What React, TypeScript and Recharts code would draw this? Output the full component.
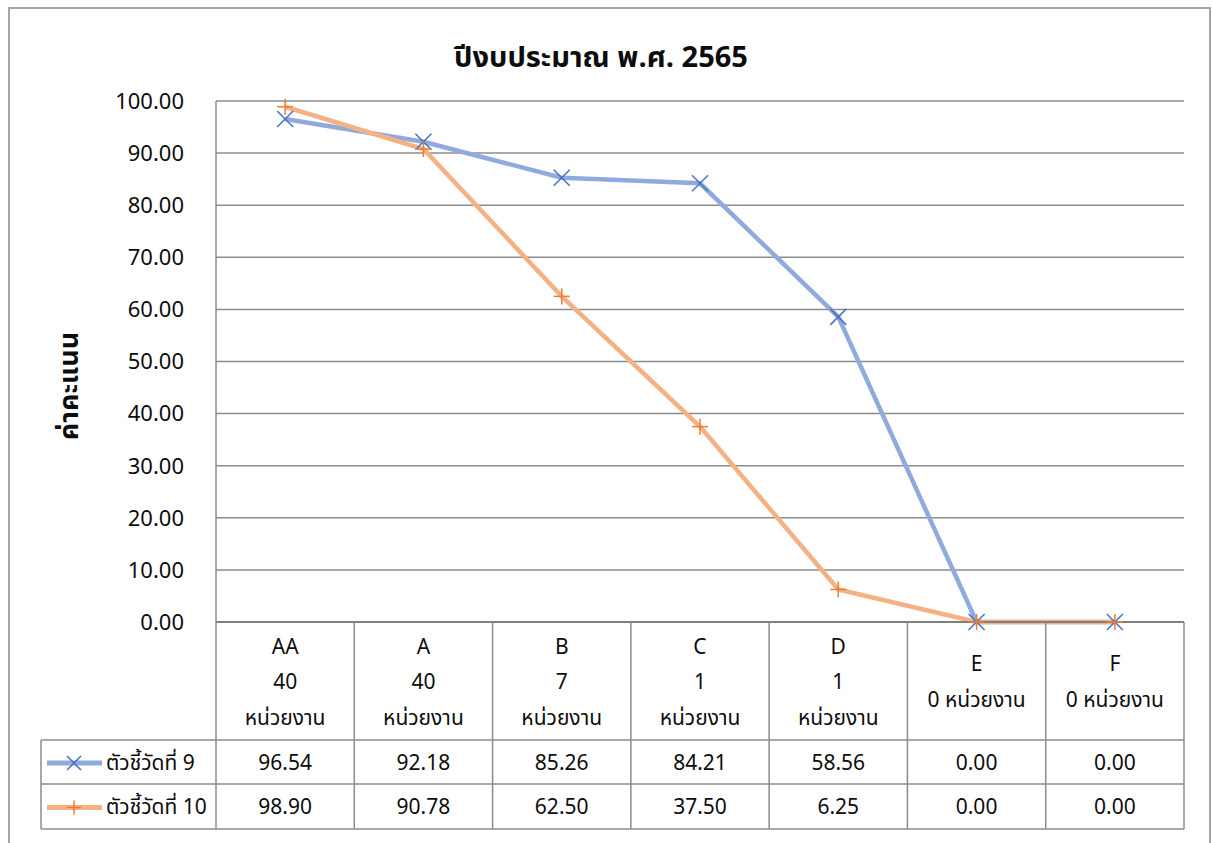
import React from 'react';
import { LineChart, Line, XAxis, YAxis, CartesianGrid, Customized } from 'recharts';

const categories = ['AA', 'A', 'B', 'C', 'D', 'E', 'F'];
const unitCounts = ['40', '40', '7', '1', '1', '0', '0'];
const unitWord = 'หน่วยงาน';
const series9 = [96.54, 92.18, 85.26, 84.21, 58.56, 0.0, 0.0];
const series10 = [98.9, 90.78, 62.5, 37.5, 6.25, 0.0, 0.0];
const seriesNames = ['ตัวชี้วัดที่ 9', 'ตัวชี้วัดที่ 10'];
const yTicks = [0, 10, 20, 30, 40, 50, 60, 70, 80, 90, 100];
const title = 'ปีงบประมาณ พ.ศ. 2565';
const yLabel = 'ค่าคะแนน';

const data = categories.map((c, i) => ({ cat: c, count: unitCounts[i], s9: series9[i], s10: series10[i] }));

const W = 1212;
const H = 843;
const PLOT_LEFT = 216;
const PLOT_RIGHT = 1184;
const PLOT_TOP = 101;
const PLOT_BOTTOM = 622;
const Y_AXIS_W = 60;
const BAND = (PLOT_RIGHT - PLOT_LEFT) / categories.length;
const ROW1_TOP = 740;
const ROW2_TOP = 784;
const TABLE_BOTTOM = 829;
const TABLE_LEFT = 41;
const FONT = "'Noto Sans Thai', 'Leelawadee UI', Tahoma, 'Liberation Sans', 'Noto Sans', sans-serif";
const TEXT = '#0D0D0D';
const GRID = '#8C8C8C';
const BLUE_LINE = '#8FAADC';
const BLUE_MARK = '#4472C4';
const ORANGE_LINE = '#F4B183';
const ORANGE_MARK = '#ED7D31';
const TABLE_FS = 21;

const XMark = ({ cx, cy, size = 8 }: any) => (
  <g>
    <line x1={cx - size} y1={cy - size} x2={cx + size} y2={cy + size} stroke={BLUE_MARK} strokeWidth={1.5} />
    <line x1={cx - size} y1={cy + size} x2={cx + size} y2={cy - size} stroke={BLUE_MARK} strokeWidth={1.5} />
  </g>
);
const PlusMark = ({ cx, cy, size = 8 }: any) => (
  <g>
    <line x1={cx - size} y1={cy} x2={cx + size} y2={cy} stroke={ORANGE_MARK} strokeWidth={1.5} />
    <line x1={cx} y1={cy - size} x2={cx} y2={cy + size} stroke={ORANGE_MARK} strokeWidth={1.5} />
  </g>
);

const XDot = (props: any) => {
  const { cx, cy, index } = props;
  if (cx == null || cy == null) return <g key={`x${index}`} />;
  return <XMark key={`x${index}`} cx={cx} cy={cy} />;
};
const PlusDot = (props: any) => {
  const { cx, cy, index } = props;
  if (cx == null || cy == null) return <g key={`p${index}`} />;
  return <PlusMark key={`p${index}`} cx={cx} cy={cy} />;
};

const TableTick = (props: any) => {
  const { x, payload } = props;
  const i = payload.index;
  const half = BAND / 2;
  const count = unitCounts[i];
  const lines = count === '0' ? [categories[i], `${count} ${unitWord}`] : [categories[i], count, unitWord];
  const gap = 35.5;
  const mid = (PLOT_BOTTOM + ROW1_TOP) / 2 + 1.5;
  const start = mid - ((lines.length - 1) / 2) * gap;
  const r1 = (ROW1_TOP + ROW2_TOP) / 2 + 1;
  const r2 = (ROW2_TOP + TABLE_BOTTOM) / 2 + 1;
  return (
    <g>
      {lines.map((t, k) => (
        <text key={k} x={x} y={start + k * gap} textAnchor="middle" dominantBaseline="central" fontSize={TABLE_FS} fontFamily={FONT} fill={TEXT}>
          {t}
        </text>
      ))}
      <text x={x} y={r1} textAnchor="middle" dominantBaseline="central" fontSize={TABLE_FS} fontFamily={FONT} fill={TEXT}>
        {series9[i].toFixed(2)}
      </text>
      <text x={x} y={r2} textAnchor="middle" dominantBaseline="central" fontSize={TABLE_FS} fontFamily={FONT} fill={TEXT}>
        {series10[i].toFixed(2)}
      </text>
      <line x1={x + half} y1={PLOT_BOTTOM} x2={x + half} y2={TABLE_BOTTOM} stroke={GRID} strokeWidth={1.5} />
      {i === 0 && (
        <g>
          <line x1={x - half} y1={PLOT_BOTTOM} x2={x - half} y2={TABLE_BOTTOM} stroke={GRID} strokeWidth={1.5} />
          <line x1={TABLE_LEFT} y1={ROW1_TOP} x2={PLOT_RIGHT} y2={ROW1_TOP} stroke={GRID} strokeWidth={1.5} />
          <line x1={TABLE_LEFT} y1={ROW2_TOP} x2={PLOT_RIGHT} y2={ROW2_TOP} stroke={GRID} strokeWidth={1.5} />
          <line x1={TABLE_LEFT} y1={TABLE_BOTTOM} x2={PLOT_RIGHT} y2={TABLE_BOTTOM} stroke={GRID} strokeWidth={1.5} />
          <line x1={TABLE_LEFT} y1={ROW1_TOP} x2={TABLE_LEFT} y2={TABLE_BOTTOM} stroke={GRID} strokeWidth={1.5} />
          <line x1={47} y1={r1} x2={102} y2={r1} stroke={BLUE_LINE} strokeWidth={5} />
          <XMark cx={74} cy={r1} size={7} />
          <text x={106} y={r1} dominantBaseline="central" fontSize={TABLE_FS} fontFamily={FONT} fill={TEXT}>
            {seriesNames[0]}
          </text>
          <line x1={47} y1={r2} x2={102} y2={r2} stroke={ORANGE_LINE} strokeWidth={5} />
          <PlusMark cx={74} cy={r2} size={7} />
          <text x={106} y={r2} dominantBaseline="central" fontSize={TABLE_FS} fontFamily={FONT} fill={TEXT}>
            {seriesNames[1]}
          </text>
        </g>
      )}
    </g>
  );
};

const Titles = () => (
  <g>
    <text x={601} y={58} textAnchor="middle" dominantBaseline="central" fontSize={29} fontWeight="bold" fontFamily={FONT} fill={TEXT}>
      {title}
    </text>
    <text x={69} y={386} textAnchor="middle" dominantBaseline="central" fontSize={27} fontWeight="bold" fontFamily={FONT} fill={TEXT} transform="rotate(-90 69 386)">
      {yLabel}
    </text>
  </g>
);

export default function App() {
  return (
    <div style={{ position: 'absolute', left: 0, top: 0, width: W, height: H, overflow: 'hidden', background: '#fff' }}>
      <div style={{ position: 'absolute', left: 8, top: 7, width: 1203, height: 900, border: '2px solid #A6A6A6', boxSizing: 'border-box' }} />
      <div style={{ position: 'absolute', left: 0, top: 0 }}>
        <LineChart
          width={W}
          height={H}
          data={data}
          margin={{ top: PLOT_TOP, right: W - PLOT_RIGHT, left: PLOT_LEFT - Y_AXIS_W, bottom: 6 }}
        >
          <CartesianGrid vertical={false} stroke={GRID} strokeWidth={1.5} />
          <XAxis
            dataKey="cat"
            height={H - 6 - PLOT_BOTTOM}
            interval={0}
            padding={{ left: BAND / 2, right: BAND / 2 }}
            tickLine={false}
            axisLine={{ stroke: '#7F7F7F', strokeWidth: 2 }}
            tick={<TableTick />}
          />
          <YAxis
            width={Y_AXIS_W}
            domain={[0, 100]}
            ticks={yTicks}
            interval={0}
            tickFormatter={(v: number) => v.toFixed(2)}
            tickLine={false}
            tickSize={6}
            tickMargin={26}
            axisLine={{ stroke: GRID, strokeWidth: 1.5 }}
            tick={{ fontSize: 22, fill: TEXT, fontFamily: FONT }}
          />
          <Line
            dataKey="s9"
            name={seriesNames[0]}
            stroke={BLUE_LINE}
            strokeWidth={4.5}
            dot={<XDot />}
            activeDot={false}
            isAnimationActive={false}
          />
          <Line
            dataKey="s10"
            name={seriesNames[1]}
            stroke={ORANGE_LINE}
            strokeWidth={4.5}
            dot={<PlusDot />}
            activeDot={false}
            isAnimationActive={false}
          />
          <Customized component={Titles} />
        </LineChart>
      </div>
    </div>
  );
}
